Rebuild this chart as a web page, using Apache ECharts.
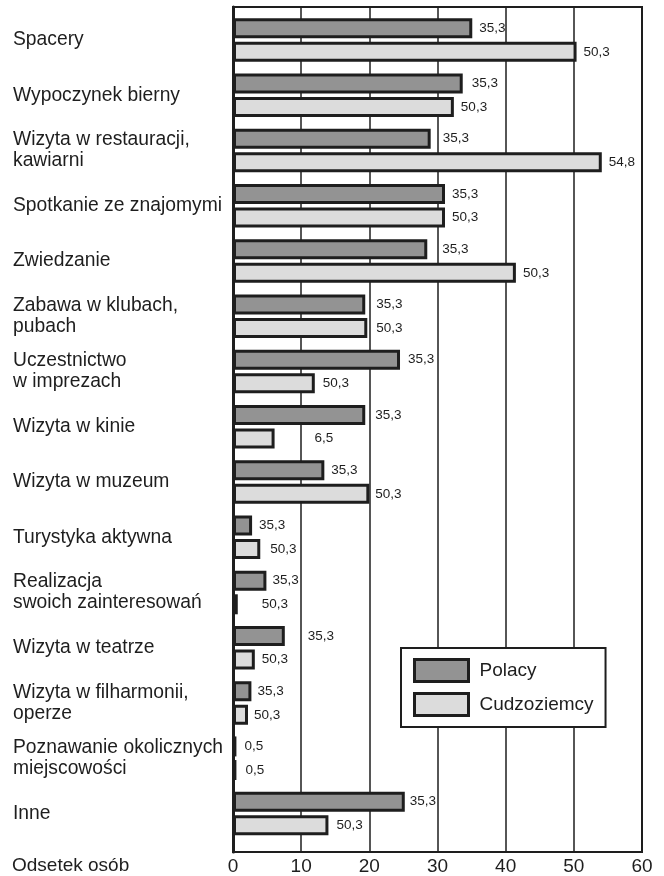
<!DOCTYPE html>
<html>
<head>
<meta charset="utf-8">
<script src="https://cdn.jsdelivr.net/npm/echarts@6/dist/echarts.min.js"></script>
<style>
html,body{margin:0;padding:0;background:#fff;}
#chart{width:664px;height:876px;}
</style>
</head>
<body>
<div id="chart"></div>
<script>
const categories = [
  "Spacery",
  "Wypoczynek bierny",
  "Wizyta w restauracji,\nkawiarni",
  "Spotkanie ze znajomymi",
  "Zwiedzanie",
  "Zabawa w klubach,\npubach",
  "Uczestnictwo\nw imprezach",
  "Wizyta w kinie",
  "Wizyta w muzeum",
  "Turystyka aktywna",
  "Realizacja\nswoich zainteresowań",
  "Wizyta w teatrze",
  "Wizyta w filharmonii,\noperze",
  "Poznawanie okolicznych\nmiejscowości",
  "Inne"
];
const seriesNames = ["Polacy", "Cudzoziemcy"];
const polacy = [35.1, 33.7, 29.0, 31.1, 28.5, 19.4, 24.5, 19.4, 13.4, 2.8, 4.9, 7.6, 2.7, 0.5, 25.2];
const cudzoziemcy = [50.4, 32.4, 54.1, 31.1, 41.5, 19.7, 12.0, 6.1, 20.0, 4.0, 0.7, 3.2, 2.2, 0.5, 14.0];
const polacyLabels = ["35,3","35,3","35,3","35,3","35,3","35,3","35,3","35,3","35,3","35,3","35,3","35,3","35,3","0,5","35,3"];
const cudzoziemcyLabels = ["50,3","50,3","54,8","50,3","50,3","50,3","50,3","6,5","50,3","50,3","50,3","50,3","50,3","0,5","50,3"];
const xMin = 0, xMax = 60, xStep = 10;
const axisTitle = "Odsetek osób";

// layout nudges for value labels (pixels), styling only
const nudgeP = [0,2,5,0,8,4,1,3,0,0,-1,16,-1,1,-2];
const nudgeC = [0,0,0,0,0,2,1,33,-1,3,17,0,-1,2,1];

const INK = '#1e1e1e';
const FONT = '"Liberation Sans", Arial, Helvetica, sans-serif';

function buildData(vals, nudges) {
  return vals.map((v, i) => ({ value: v, label: { offset: [nudges[i], 0] } }));
}

const chart = echarts.init(document.getElementById('chart'), null, { renderer: 'canvas' });
chart.setOption({
  animation: false,
  backgroundColor: '#fff',
  title: {
    text: axisTitle,
    left: 12, top: 856, padding: 0,
    textStyle: { fontFamily: FONT, fontSize: 19, fontWeight: 'normal', color: INK }
  },
  grid: [
    { left: 233, right: 22, top: 7, bottom: 24, show: true, borderColor: INK, borderWidth: 2, backgroundColor: 'transparent', containLabel: false },
    { left: 233, right: 22, top: 12.4, bottom: 34.9, containLabel: false }
  ],
  xAxis: [
    {
      gridIndex: 0, type: 'value', min: xMin, max: xMax, interval: xStep,
      axisLine: { show: true, lineStyle: { color: INK, width: 2 } },
      axisTick: { show: false },
      splitLine: { show: true, lineStyle: { color: INK, width: 1.5 } },
      axisLabel: { margin: 5, fontFamily: FONT, fontSize: 19, color: INK }
    },
    { gridIndex: 1, type: 'value', min: xMin, max: xMax, show: false, splitLine: { show: false } }
  ],
  yAxis: [
    {
      gridIndex: 0, type: 'value', min: 0, max: 1,
      axisLine: { show: true, onZero: false, lineStyle: { color: INK, width: 3 } },
      axisTick: { show: false }, axisLabel: { show: false }, splitLine: { show: false }
    },
    {
      gridIndex: 1, type: 'category', data: categories, inverse: true,
      axisLine: { show: false }, axisTick: { show: false }, splitLine: { show: false },
      axisLabel: { align: 'left', margin: 220, fontFamily: FONT, fontSize: 19.3, lineHeight: 21, color: INK }
    }
  ],
  legend: {
    orient: 'vertical',
    left: 401, top: 648,
    padding: [10, 12, 10, 12],
    itemGap: 9,
    itemWidth: 54, itemHeight: 22,
    backgroundColor: '#fff',
    borderColor: INK, borderWidth: 2,
    icon: 'rect',
    itemStyle: { borderColor: INK, borderWidth: 3 },
    textStyle: { fontFamily: FONT, fontSize: 19, color: INK, padding: [0, 0, 0, 6] },
    data: seriesNames
  },
  series: [
    {
      name: seriesNames[0], type: 'bar', xAxisIndex: 1, yAxisIndex: 1,
      barWidth: 20, barGap: '18%',
      itemStyle: { color: '#939393', borderColor: INK, borderWidth: 3 },
      label: {
        show: true, position: 'right', distance: 7,
        fontFamily: FONT, fontSize: 13.5, color: INK,
        formatter: p => polacyLabels[p.dataIndex]
      },
      data: buildData(polacy, nudgeP),
      z: 5
    },
    {
      name: seriesNames[1], type: 'bar', xAxisIndex: 1, yAxisIndex: 1,
      barWidth: 20, barGap: '18%',
      itemStyle: { color: '#dcdcdc', borderColor: INK, borderWidth: 3 },
      label: {
        show: true, position: 'right', distance: 7,
        fontFamily: FONT, fontSize: 13.5, color: INK,
        formatter: p => cudzoziemcyLabels[p.dataIndex]
      },
      data: buildData(cudzoziemcy, nudgeC),
      z: 5
    }
  ]
});
</script>
</body>
</html>
